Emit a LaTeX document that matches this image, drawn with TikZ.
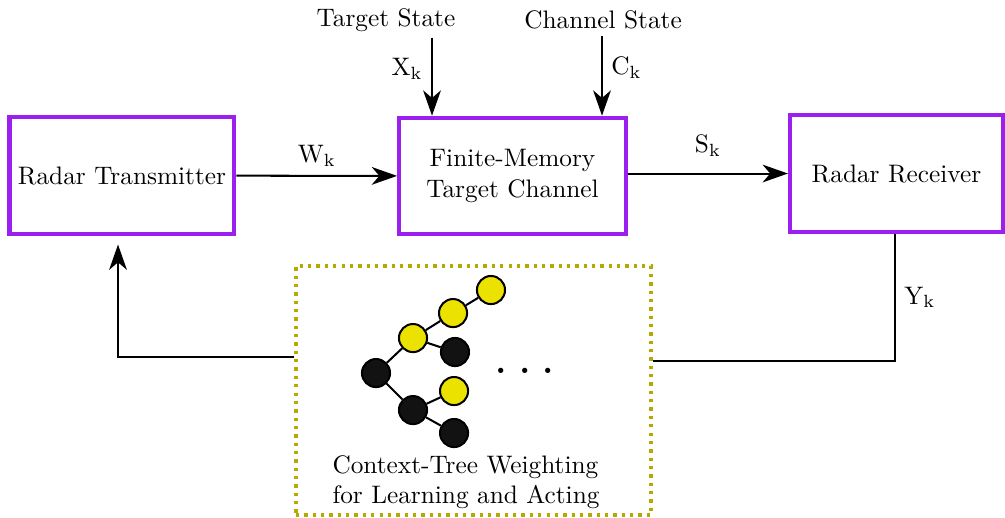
\documentclass[tikz,border=0pt]{standalone}
\usepackage{tikz}
\usetikzlibrary{arrows.meta,calc}
\definecolor{boxpurple}{RGB}{155,32,240}
\definecolor{ctwolive}{RGB}{181,170,0}
\definecolor{leafyellow}{RGB}{236,226,0}

\begin{document}
\begin{tikzpicture}[
    box/.style={draw=boxpurple, line width=1.6pt, minimum width=3.1cm, minimum height=1.62cm, align=center},
    arr/.style={-{Stealth[length=10pt, width=7pt, inset=3pt]}, line width=0.8pt},
    line/.style={line width=0.8pt},
    ctwbox/.style={draw=ctwolive, dotted, line width=1.3pt, minimum width=4.93cm, minimum height=3.46cm},
    ynode/.style={circle, draw=black, thick, fill=leafyellow, minimum size=0.39cm, inner sep=0pt},
    bnode/.style={circle, draw=black, thick, fill=black!93, minimum size=0.39cm, inner sep=0pt}
]
\useasboundingbox (0,0) rectangle (13.958,7.181);

% Top row
\node[box] (tx) at (1.694, 4.743) {Radar Transmitter};
\node[box, minimum width=3.15cm] (ch) at (7.118, 4.736) {Finite-Memory\\Target Channel};
\node[box, minimum width=2.96cm] (rx) at (12.451, 4.771) {Radar Receiver};

% Inputs from above
\node (ts) at (5.361, 6.903) {Target State};
\node (cs) at (8.375, 6.903) {Channel State};
\coordinate (xin) at (6.0, 6.66);
\coordinate (cin) at (8.361, 6.68);
\draw[arr] (xin) -- node[left, pos=0.4] {X\textsubscript{k}} (xin |- ch.north);
\draw[arr] (cin) -- node[right, pos=0.4] {C\textsubscript{k}} (cin |- ch.north);

% Forward path
\draw[arr] (tx) -- node[above] {$\mathrm{W}_\mathrm{k}$} (ch);
\draw[arr] (rx.west -| ch.east) -- node[above, yshift=3pt] {S\textsubscript{k}} (rx.west);

% CTW block
\node[ctwbox] (ctw) at (6.576, 1.757) {};
\node[align=left] (ctwtxt) at (6.472, 0.486) {Context-Tree Weighting\\for Learning and Acting};

% Tree
\node[bnode] (root) at (5.222, 2.0) {};
\node[ynode] (a) at (5.736, 2.486) {};
\node[ynode] (b) at (6.292, 2.833) {};
\node[ynode] (c) at (6.819, 3.153) {};
\node[bnode] (d) at (6.319, 2.292) {};
\node[bnode] (e) at (5.736, 1.486) {};
\node[ynode] (f) at (6.306, 1.75) {};
\node[bnode] (g) at (6.306, 1.167) {};
\draw[thick] (root) -- (a) (a) -- (b) (b) -- (c) (a) -- (d)
             (root) -- (e) (e) -- (f) (e) -- (g);
\node[font=\Large\bfseries] (dots) at (7.292, 2.03) {.\,\,.\,\,.};

% Feedback
\coordinate (fb) at (1.639, 2.222);
\draw[arr, shorten >=0.12cm] (fb -| ctw.west) -- (fb) -- (fb |- tx.south);
\coordinate (yout) at (12.43, 2.167);
\draw[line] (yout |- rx.south) -- node[right] {Y\textsubscript{k}} (yout) -- (yout -| ctw.east);
\end{tikzpicture}
\end{document}
